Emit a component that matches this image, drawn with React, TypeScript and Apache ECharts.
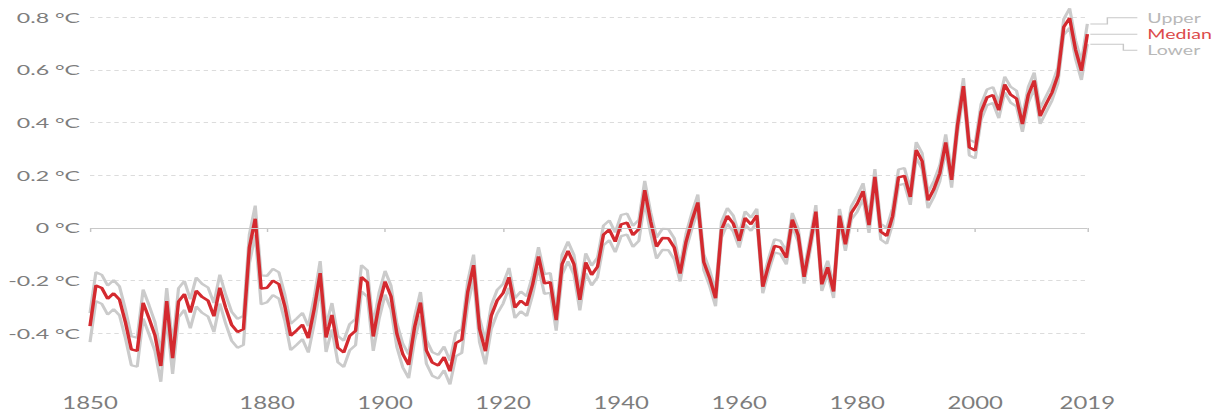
import React, { useEffect, useRef } from "react";
import * as echarts from "echarts";

const firstYear = 1850;
const lastYear = 2019;
const years: string[] = [];
for (let y = firstYear; y <= lastYear; y++) years.push(String(y));

const tickYears = ["1850", "1880", "1900", "1920", "1940", "1960", "1980", "2000", "2019"];
const yTickValues = [-0.4, -0.2, 0, 0.2, 0.4, 0.6, 0.8];
const yTickLabels = ["-0.4 °C", "-0.2 °C", "0 °C", "0.2 °C", "0.4 °C", "0.6 °C", "0.8 °C"];

const median = [
  -0.373, -0.218, -0.228, -0.269, -0.248, -0.272, -0.358, -0.461, -0.467, -0.284,
  -0.343, -0.407, -0.524, -0.278, -0.494, -0.279, -0.251, -0.321, -0.238, -0.262,
  -0.276, -0.335, -0.227, -0.304, -0.368, -0.395, -0.384, -0.075, 0.035, -0.230,
  -0.227, -0.200, -0.213, -0.296, -0.409, -0.389, -0.367, -0.418, -0.307, -0.171,
  -0.416, -0.330, -0.455, -0.473, -0.410, -0.390, -0.186, -0.206, -0.412, -0.289,
  -0.203, -0.259, -0.402, -0.479, -0.520, -0.377, -0.283, -0.465, -0.511, -0.522,
  -0.490, -0.544, -0.437, -0.424, -0.244, -0.141, -0.383, -0.468, -0.333, -0.275,
  -0.247, -0.187, -0.302, -0.276, -0.294, -0.215, -0.108, -0.210, -0.206, -0.350,
  -0.137, -0.087, -0.137, -0.273, -0.131, -0.178, -0.147, -0.026, -0.006, -0.052,
  0.014, 0.020, -0.027, -0.004, 0.144, 0.025, -0.071, -0.038, -0.039, -0.074,
  -0.173, -0.052, 0.028, 0.097, -0.129, -0.190, -0.267, -0.007, 0.046, 0.017,
  -0.049, 0.038, 0.014, 0.048, -0.223, -0.140, -0.068, -0.074, -0.113, 0.032,
  -0.027, -0.186, -0.065, 0.062, -0.214, -0.149, -0.241, 0.047, -0.062, 0.057,
  0.092, 0.140, 0.011, 0.194, -0.014, -0.030, 0.045, 0.192, 0.198, 0.118,
  0.296, 0.254, 0.105, 0.148, 0.208, 0.325, 0.183, 0.390, 0.539, 0.306,
  0.294, 0.441, 0.496, 0.505, 0.447, 0.545, 0.506, 0.491, 0.395, 0.506,
  0.560, 0.425, 0.470, 0.514, 0.579, 0.763, 0.797, 0.677, 0.597, 0.736,
];

const upper = [
  -0.323, -0.168, -0.178, -0.219, -0.198, -0.222, -0.308, -0.411, -0.417, -0.234,
  -0.293, -0.357, -0.474, -0.228, -0.444, -0.229, -0.201, -0.271, -0.188, -0.212,
  -0.226, -0.285, -0.177, -0.254, -0.318, -0.345, -0.334, -0.025, 0.085, -0.180,
  -0.182, -0.155, -0.168, -0.251, -0.364, -0.344, -0.322, -0.373, -0.262, -0.126,
  -0.371, -0.285, -0.410, -0.428, -0.365, -0.345, -0.141, -0.161, -0.367, -0.244,
  -0.163, -0.219, -0.362, -0.439, -0.480, -0.337, -0.243, -0.425, -0.471, -0.482,
  -0.450, -0.504, -0.397, -0.384, -0.204, -0.101, -0.343, -0.428, -0.293, -0.235,
  -0.212, -0.152, -0.267, -0.241, -0.259, -0.180, -0.073, -0.175, -0.171, -0.315,
  -0.102, -0.052, -0.102, -0.238, -0.096, -0.143, -0.112, 0.009, 0.029, -0.017,
  0.049, 0.055, 0.008, 0.031, 0.179, 0.060, -0.036, -0.003, -0.004, -0.039,
  -0.143, -0.022, 0.058, 0.127, -0.099, -0.160, -0.237, 0.023, 0.076, 0.047,
  -0.024, 0.063, 0.039, 0.073, -0.198, -0.115, -0.043, -0.049, -0.088, 0.057,
  -0.002, -0.161, -0.040, 0.087, -0.189, -0.124, -0.216, 0.072, -0.037, 0.082,
  0.122, 0.170, 0.041, 0.224, 0.016, 0.000, 0.075, 0.222, 0.228, 0.148,
  0.326, 0.284, 0.135, 0.178, 0.238, 0.355, 0.213, 0.420, 0.569, 0.336,
  0.324, 0.471, 0.526, 0.535, 0.477, 0.575, 0.536, 0.521, 0.425, 0.536,
  0.590, 0.455, 0.500, 0.544, 0.609, 0.793, 0.834, 0.712, 0.632, 0.775,
];

const lower = [
  -0.433, -0.278, -0.288, -0.329, -0.308, -0.332, -0.418, -0.521, -0.527, -0.344,
  -0.403, -0.467, -0.584, -0.338, -0.554, -0.339, -0.311, -0.381, -0.298, -0.322,
  -0.336, -0.395, -0.287, -0.364, -0.428, -0.455, -0.444, -0.135, -0.025, -0.290,
  -0.282, -0.255, -0.268, -0.351, -0.464, -0.444, -0.422, -0.473, -0.362, -0.226,
  -0.471, -0.385, -0.510, -0.528, -0.465, -0.445, -0.241, -0.261, -0.467, -0.344,
  -0.253, -0.309, -0.452, -0.529, -0.570, -0.427, -0.333, -0.515, -0.561, -0.572,
  -0.540, -0.594, -0.487, -0.474, -0.294, -0.191, -0.433, -0.518, -0.383, -0.325,
  -0.287, -0.227, -0.342, -0.316, -0.334, -0.255, -0.148, -0.250, -0.246, -0.390,
  -0.177, -0.127, -0.177, -0.313, -0.171, -0.218, -0.187, -0.066, -0.046, -0.092,
  -0.031, -0.025, -0.072, -0.049, 0.099, -0.020, -0.116, -0.083, -0.084, -0.119,
  -0.203, -0.082, -0.002, 0.067, -0.159, -0.220, -0.297, -0.037, 0.016, -0.013,
  -0.074, 0.013, -0.011, 0.023, -0.248, -0.165, -0.093, -0.099, -0.138, 0.007,
  -0.052, -0.211, -0.090, 0.037, -0.239, -0.174, -0.266, 0.022, -0.087, 0.032,
  0.062, 0.110, -0.019, 0.164, -0.044, -0.060, 0.015, 0.162, 0.168, 0.088,
  0.266, 0.224, 0.075, 0.118, 0.178, 0.295, 0.153, 0.360, 0.509, 0.276,
  0.264, 0.411, 0.466, 0.475, 0.417, 0.515, 0.476, 0.461, 0.365, 0.476,
  0.530, 0.395, 0.440, 0.484, 0.549, 0.733, 0.760, 0.642, 0.562, 0.698,
];

const seriesNames = ["Upper", "Median", "Lower"];

const S = 1.45;
const W = 1222 / S;
const H = 414;
const FONT = "Lato, 'DejaVu Sans', sans-serif";
const RED = "#d42a2f";
const GRAY = "#cbcbcb";
const LABEL = "#7d7d7d";

export default function App() {
  const ref = useRef<HTMLDivElement>(null);

  useEffect(() => {
    if (!ref.current) return;
    const chart = echarts.init(ref.current, undefined, { renderer: "svg" });
    const showTick = (_i: number, v: string) => tickYears.includes(v);
    chart.setOption({
      animation: false,
      grid: { left: 90 / S, right: (1222 - 1087) / S, top: 17.3, bottom: H - 386 },
      xAxis: {
        type: "category",
        data: years,
        boundaryGap: false,
        axisLine: { show: false },
        axisTick: { show: true, interval: showTick, length: 4, lineStyle: { color: "#c4c4c4" } },
        axisLabel: { interval: showTick, color: LABEL, fontSize: 16.5, fontFamily: FONT, margin: 8 },
        splitLine: { show: false },
      },
      yAxis: {
        type: "value",
        min: -0.6,
        max: 0.8,
        interval: 0.2,
        axisLine: { show: false },
        axisTick: { show: false },
        axisLabel: { show: false },
        splitLine: { show: true, showMinLine: false, lineStyle: { color: "#dcdcdc", type: [3, 2.6], width: 1 } },
      },
      series: [
        {
          name: seriesNames[0], type: "line", data: upper, symbol: "none", clip: false,
          lineStyle: { color: GRAY, width: 2.2 }, z: 2,
          markLine: {
            silent: true, symbol: "none", label: { show: false },
            lineStyle: { color: "#c8c8c8", type: "solid", width: 1 },
            data: [{ yAxis: 0 }],
          },
        },
        { name: seriesNames[2], type: "line", data: lower, symbol: "none", clip: false, lineStyle: { color: GRAY, width: 2.2 }, z: 2 },
        { name: seriesNames[1], type: "line", data: median, symbol: "none", clip: false, lineStyle: { color: RED, width: 2.4 }, z: 3 },
      ],
    });

    const last = years.length - 1;
    const pu = chart.convertToPixel({ gridIndex: 0 }, [last, upper[last]]) as number[];
    const pm = chart.convertToPixel({ gridIndex: 0 }, [last, median[last]]) as number[];
    const pl = chart.convertToPixel({ gridIndex: 0 }, [last, lower[last]]) as number[];
    const ex = pm[0];
    const yM = pm[1];
    const yU = yM - 16.5;
    const yL = yM + 16;
    const lineStyle = { stroke: "#c8c8c8", lineWidth: 1, fill: "none" };
    const tx = ex + 60 / S;
    const legendText = (text: string, y: number, color: string) => ({
      type: "text",
      x: tx,
      y,
      style: { text, fill: color, font: `13.5px ${FONT}`, verticalAlign: "middle" },
    });
    const labelRight = 80 / S;
    const yLabels = yTickValues.map((v, i) => {
      const py = chart.convertToPixel({ yAxisIndex: 0 }, v) as number;
      return {
        type: "text",
        x: labelRight,
        y: py,
        scaleX: 1.14,
        style: { text: yTickLabels[i], fill: LABEL, font: `14px ${FONT}`, align: "right", verticalAlign: "middle" },
      };
    });
    chart.setOption({
      graphic: [
        { type: "polyline", shape: { points: [[ex + 3 / S, pu[1]], [ex + 20 / S, pu[1]], [ex + 20 / S, yU], [ex + 50 / S, yU]] }, style: lineStyle },
        { type: "polyline", shape: { points: [[ex + 3 / S, yM], [ex + 50 / S, yM]] }, style: lineStyle },
        { type: "polyline", shape: { points: [[ex + 3 / S, pl[1]], [ex + 36 / S, pl[1]], [ex + 36 / S, yL], [ex + 50 / S, yL]] }, style: lineStyle },
        legendText("Upper", yU, "#b8b8b8"),
        legendText("Median", yM, "#dc4b4b"),
        legendText("Lower", yL, "#b8b8b8"),
        ...yLabels,
      ],
    });

    return () => chart.dispose();
  }, []);

  return (
    <div
      ref={ref}
      style={{
        position: "fixed",
        left: 0,
        top: 0,
        width: W,
        height: H,
        transform: `scaleX(${S})`,
        transformOrigin: "0 0",
        background: "#fff",
      }}
    />
  );
}
